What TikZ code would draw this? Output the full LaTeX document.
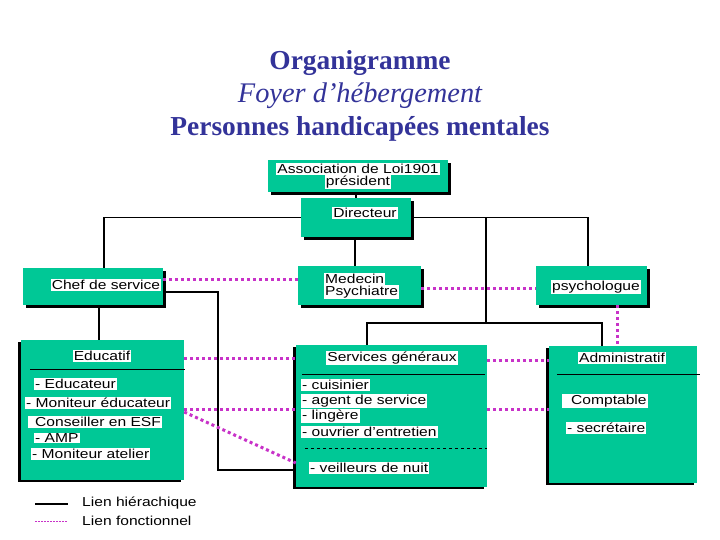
\documentclass[tikz,border=0pt]{standalone}
\usepackage{fontspec}
\setmainfont{Liberation Serif}
\newfontfamily\boxfont[FakeStretch=1.2]{Liberation Sans}
\usetikzlibrary{shadows}

\definecolor{boxgreen}{RGB}{0,200,150}
\definecolor{linkpink}{RGB}{200,50,200}
\definecolor{titleblue}{RGB}{51,51,153}

\tikzset{
  unit/.style 2 args={fill=boxgreen,minimum width=#1,minimum height=#2,inner sep=0pt},
  shadowR/.style={drop shadow={shadow xshift=3pt,shadow yshift=-3pt,fill=black,opacity=1}},
  shadowL/.style={drop shadow={shadow xshift=-3pt,shadow yshift=-2pt,fill=black,opacity=1}},
  tag/.style={fill=white,inner xsep=1pt,inner ysep=1pt,font=\boxfont\fontsize{13}{15}\selectfont},
  hier/.style={black,line width=1.8pt},
  func/.style={linkpink,line width=3pt,dash pattern=on 3pt off 3pt},
  titletext/.style={titleblue,anchor=base,font=\fontsize{27}{33}\selectfont}
}

\begin{document}
\begin{tikzpicture}[x=1pt,y=-1pt]
    \fill[white] (0,0) rectangle (720,540);
    \useasboundingbox (0,0) rectangle (720,540);

    % Title
    \node[titletext,font=\bfseries\fontsize{27.4}{33}\selectfont] (t1) at (360,70) {Organigramme};
    \node[titletext,font=\itshape\fontsize{28.4}{33}\selectfont] (t2) at (360,103) {Foyer d’hébergement};
    \node[titletext,font=\bfseries\fontsize{27.4}{33}\selectfont] (t3) at (360,136) {Personnes handicapées mentales};

    % Boxes
    \node[unit={180pt}{32pt},shadowR] (assoc) at (358,176) {};
    \node[unit={110pt}{39pt},shadowR] (dir) at (356,217.5) {};
    \node[unit={140pt}{37pt},shadowR] (chef) at (93,286.5) {};
    \node[unit={123pt}{39pt},shadowR] (med) at (359.5,285.5) {};
    \node[unit={111pt}{39pt},shadowR] (psy) at (591.5,285.5) {};
    \node[unit={163pt}{140pt},shadowL] (edu) at (102.5,410) {};
    \node[unit={191pt}{142pt},shadowL] (serv) at (391.5,416) {};
    \node[unit={148pt}{137pt},shadowL] (admin) at (623,414.5) {};

    % Texts
    \node[tag] (assoc1) at (358,169) {Association de Loi1901};
    \node[tag] (assoc2) at (358,182) {président};
    \node[tag] (dirt) at (365,213) {Directeur};
    \node[tag] (cheft) at (106,285) {Chef de service};
    \node[tag,anchor=west] (med1) at (324,279) {Medecin};
    \node[tag,anchor=west] (med2) at (324,292) {Psychiatre};
    \node[tag] (psyt) at (596,287) {psychologue};

    \node[tag] (edut) at (102,356) {Educatif};
    \draw[black,line width=0.6pt] (30,369) -- (185,369);
    \node[tag,anchor=west] (edu1) at (34,384) {- Educateur};
    \node[tag,anchor=west] (edu2) at (25,403) {- Moniteur éducateur};
    \node[tag,anchor=west] (edu3) at (28,422) {\hspace{6pt}Conseiller en ESF};
    \node[tag,anchor=west] (edu4) at (34,438) {- AMP};
    \node[tag,anchor=west] (edu5) at (31,454) {- Moniteur atelier};

    \node[tag] (servt) at (392,358) {Services généraux};
    \draw[black,line width=0.6pt] (302,374) -- (485,374);
    \node[tag,anchor=west] (serv1) at (301,385) {- cuisinier};
    \node[tag,anchor=west] (serv2) at (301,401) {- agent de service};
    \node[tag,anchor=west] (serv3) at (301,416) {- lingère};
    \node[tag,anchor=west] (serv4) at (301,432) {- ouvrier d’entretien};
    \draw[black,line width=0.5pt,dashed] (305,448) -- (487,448);
    \node[tag,anchor=west] (serv5) at (309,468) {- veilleurs de nuit};

    \node[tag] (admint) at (622,358) {Administratif};
    \draw[black,line width=0.6pt] (557,374) -- (700,374);
    \node[tag,anchor=west] (admin1) at (562,401) {\hspace{8pt}Comptable};
    \node[tag,anchor=west] (admin2) at (566,428) {- secrétaire};

    % Hierarchical links
    \coordinate (split) at (dir.east -| 486,0);
    \coordinate (bus) at (486,323);
    \coordinate (bend) at (218,470);
    \draw[hier] (dir.north |- assoc.south) -- (dir.north);
    \draw[hier] (dir.west) -| ([xshift=11pt]chef.north);
    \draw[hier] (dir.east) -| ([xshift=-3.5pt]psy.north);
    \draw[hier] ([xshift=-1pt]dir.south) -- ([xshift=-1pt]dir.south |- med.north);
    \draw[hier] (split) -- (bus);
    \draw[hier] ([xshift=-24.5pt]serv.north) |- (bus) -| ([xshift=-21pt]admin.north);
    \draw[hier] ([xshift=6pt]chef.south) -- ([xshift=6pt]chef.south |- edu.north);
    \draw[hier] ([yshift=-5.5pt]chef.east) -| (bend) -- (bend -| serv.west);

    % Functional links
    \draw[func] ([yshift=7.5pt]chef.east) -- ([yshift=7.5pt]chef.east -| med.west);
    \draw[func] ([yshift=-2.5pt]med.east) -- ([yshift=-2.5pt]med.east -| psy.west);
    \draw[func] ([xshift=25.5pt]psy.south) -- ([xshift=25.5pt]psy.south |- admin.north);
    \draw[func] ([yshift=52pt]edu.east) -- ([yshift=52pt]edu.east -| serv.west);
    \draw[func] ([yshift=56pt]serv.east) -- ([yshift=56pt]serv.east -| admin.west);
    \draw[func] ([yshift=1pt]edu.east) -- ([yshift=1pt]edu.east -| serv.west);
    \draw[func] ([yshift=7pt]serv.east) -- ([yshift=7pt]serv.east -| admin.west);
    \draw[func] ([yshift=-2pt]edu.east) -- ([yshift=-47pt]serv.west);

    % Legend
    \coordinate (h0) at (35,504);
    \coordinate (h1) at (68,504);
    \coordinate (f0) at (35,521);
    \coordinate (f1) at (68,521);
    \draw[hier] (h0) -- (h1);
    \draw[linkpink,line width=0.7pt,dash pattern=on 1.5pt off 1.5pt] (f0) -- (f1);
    \node[font=\boxfont\fontsize{13}{15}\selectfont,anchor=west,inner sep=0pt] (hlab) at (82,503) {Lien hiérachique};
    \node[font=\boxfont\fontsize{13}{15}\selectfont,anchor=west,inner sep=0pt] (flab) at (82,521) {Lien fonctionnel};
\end{tikzpicture}
\end{document}
